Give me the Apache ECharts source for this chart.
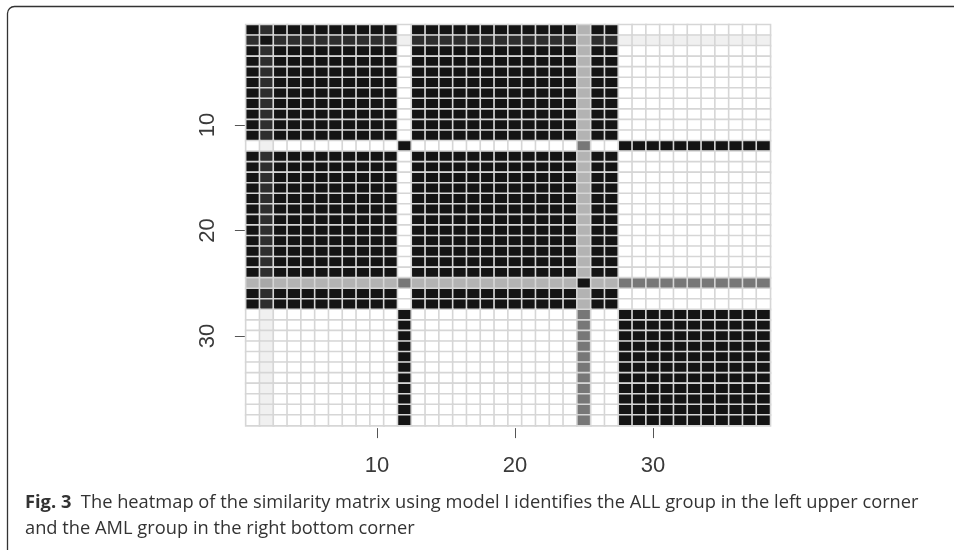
<!DOCTYPE html>
<html>
<head>
<meta charset="utf-8">
<script src="https://cdn.jsdelivr.net/npm/echarts@6/dist/echarts.min.js"></script>
<style>
html,body{margin:0;padding:0;background:#fff;}
#chart{width:954px;height:550px;}
</style>
</head>
<body>
<div id="chart"></div>
<script>
// Sample indices (1..38) on both axes
const categories = ['1','2','3','4','5','6','7','8','9','10','11','12','13','14','15','16','17','18','19','20',
  '21','22','23','24','25','26','27','28','29','30','31','32','33','34','35','36','37','38'];
const tickLabels = ['10','20','30'];

// Similarity levels (code -> similarity value)
const levelCodes = ['W', 'V', 'L', 'N', 'M', 'D', 'K'];
const levelValues = [0.0, 0.064, 0.323, 0.37, 0.579, 0.89, 1.0];

// Matrix rows (row 1 at top), one character per column 1..38
const rows = [
  'KDKKKKKKKKKWKKKKKKKKKKKKLKKWWWWWWWWWWW', // 1
  'DKDDDDDDDDDVDDDDDDDDDDDDLDDVVVVVVVVVVV', // 2
  'KDKKKKKKKKKWKKKKKKKKKKKKLKKWWWWWWWWWWW', // 3
  'KDKKKKKKKKKWKKKKKKKKKKKKLKKWWWWWWWWWWW', // 4
  'KDKKKKKKKKKWKKKKKKKKKKKKLKKWWWWWWWWWWW', // 5
  'KDKKKKKKKKKWKKKKKKKKKKKKLKKWWWWWWWWWWW', // 6
  'KDKKKKKKKKKWKKKKKKKKKKKKLKKWWWWWWWWWWW', // 7
  'KDKKKKKKKKKWKKKKKKKKKKKKLKKWWWWWWWWWWW', // 8
  'KDKKKKKKKKKWKKKKKKKKKKKKLKKWWWWWWWWWWW', // 9
  'KDKKKKKKKKKWKKKKKKKKKKKKLKKWWWWWWWWWWW', // 10
  'KDKKKKKKKKKWKKKKKKKKKKKKLKKWWWWWWWWWWW', // 11
  'WVWWWWWWWWWKWWWWWWWWWWWWMWWKKKKKKKKKKK', // 12
  'KDKKKKKKKKKWKKKKKKKKKKKKLKKWWWWWWWWWWW', // 13
  'KDKKKKKKKKKWKKKKKKKKKKKKLKKWWWWWWWWWWW', // 14
  'KDKKKKKKKKKWKKKKKKKKKKKKLKKWWWWWWWWWWW', // 15
  'KDKKKKKKKKKWKKKKKKKKKKKKLKKWWWWWWWWWWW', // 16
  'KDKKKKKKKKKWKKKKKKKKKKKKLKKWWWWWWWWWWW', // 17
  'KDKKKKKKKKKWKKKKKKKKKKKKLKKWWWWWWWWWWW', // 18
  'KDKKKKKKKKKWKKKKKKKKKKKKLKKWWWWWWWWWWW', // 19
  'KDKKKKKKKKKWKKKKKKKKKKKKLKKWWWWWWWWWWW', // 20
  'KDKKKKKKKKKWKKKKKKKKKKKKLKKWWWWWWWWWWW', // 21
  'KDKKKKKKKKKWKKKKKKKKKKKKLKKWWWWWWWWWWW', // 22
  'KDKKKKKKKKKWKKKKKKKKKKKKLKKWWWWWWWWWWW', // 23
  'KDKKKKKKKKKWKKKKKKKKKKKKLKKWWWWWWWWWWW', // 24
  'LNLLLLLLLLLMLLLLLLLLLLLLKLLMMMMMMMMMMM', // 25
  'KDKKKKKKKKKWKKKKKKKKKKKKLKKWWWWWWWWWWW', // 26
  'KDKKKKKKKKKWKKKKKKKKKKKKLKKWWWWWWWWWWW', // 27
  'WVWWWWWWWWWKWWWWWWWWWWWWMWWKKKKKKKKKKK', // 28
  'WVWWWWWWWWWKWWWWWWWWWWWWMWWKKKKKKKKKKK', // 29
  'WVWWWWWWWWWKWWWWWWWWWWWWMWWKKKKKKKKKKK', // 30
  'WVWWWWWWWWWKWWWWWWWWWWWWMWWKKKKKKKKKKK', // 31
  'WVWWWWWWWWWKWWWWWWWWWWWWMWWKKKKKKKKKKK', // 32
  'WVWWWWWWWWWKWWWWWWWWWWWWMWWKKKKKKKKKKK', // 33
  'WVWWWWWWWWWKWWWWWWWWWWWWMWWKKKKKKKKKKK', // 34
  'WVWWWWWWWWWKWWWWWWWWWWWWMWWKKKKKKKKKKK', // 35
  'WVWWWWWWWWWKWWWWWWWWWWWWMWWKKKKKKKKKKK', // 36
  'WVWWWWWWWWWKWWWWWWWWWWWWMWWKKKKKKKKKKK', // 37
  'WVWWWWWWWWWKWWWWWWWWWWWWMWWKKKKKKKKKKK'  // 38
];

const captionBold = 'Fig. 3';
const captionLine1 = 'The heatmap of the similarity matrix using model I identifies the ALL group in the left upper corner';
const captionLine2 = 'and the AML group in the right bottom corner';

// Build heatmap data [colIndex, rowIndex, value]
const heatData = [];
rows.forEach(function (row, r) {
  for (let c = 0; c < row.length; c++) {
    heatData.push([c, r, levelValues[levelCodes.indexOf(row[c])]]);
  }
});

const chart = echarts.init(document.getElementById('chart'), null, {renderer: 'canvas'});
const tickFn = function (i, v) { return tickLabels.indexOf(String(v)) >= 0; };

chart.setOption({
  animation: false,
  backgroundColor: '#ffffff',
  grid: {left: 245.9, top: 24.7, width: 524.4, height: 400.9, containLabel: false},
  xAxis: {
    type: 'category',
    data: categories,
    offset: 2.5,
    axisLine: {show: false},
    splitLine: {show: false},
    axisTick: {show: true, alignWithLabel: true, interval: tickFn, length: 10, lineStyle: {color: '#555', width: 1}},
    axisLabel: {show: true, interval: tickFn, margin: 27, fontSize: 22, color: '#3a3a3a', fontFamily: 'Liberation Sans'}
  },
  yAxis: {
    type: 'category',
    data: categories,
    inverse: true,
    offset: 1,
    axisLine: {show: false},
    splitLine: {show: false},
    axisTick: {show: true, alignWithLabel: true, interval: tickFn, length: 10, lineStyle: {color: '#555', width: 1}},
    axisLabel: {show: true, interval: tickFn, margin: 26, rotate: 90, fontSize: 22, color: '#3a3a3a', fontFamily: 'Liberation Sans'}
  },
  visualMap: {
    show: false,
    type: 'continuous',
    min: 0,
    max: 1,
    dimension: 2,
    inRange: {color: ['#ffffff', '#141414']}
  },
  series: [{
    type: 'heatmap',
    data: heatData,
    itemStyle: {borderColor: '#d6d6d6', borderWidth: 1.6},
    emphasis: {disabled: true},
    silent: true
  }],
  graphic: [
    {
      type: 'rect',
      silent: true,
      shape: {x: 7.5, y: 6.5, width: 1000, height: 570, r: 7},
      style: {fill: 'none', stroke: '#333', lineWidth: 1.3}
    },
    {
      type: 'text',
      left: 25,
      top: 494,
      style: {
        text: '{b|' + captionBold + '}  ' + captionLine1,
        fontSize: 18.3,
        fontFamily: 'Open Sans',
        fill: '#333',
        rich: {b: {fontWeight: 'bold', fontSize: 18.3, fontFamily: 'Open Sans', fill: '#333'}}
      }
    },
    {
      type: 'text',
      left: 25,
      top: 520,
      style: {text: captionLine2, fontSize: 18.3, fontFamily: 'Open Sans', fill: '#333'}
    }
  ]
});
</script>
</body>
</html>
